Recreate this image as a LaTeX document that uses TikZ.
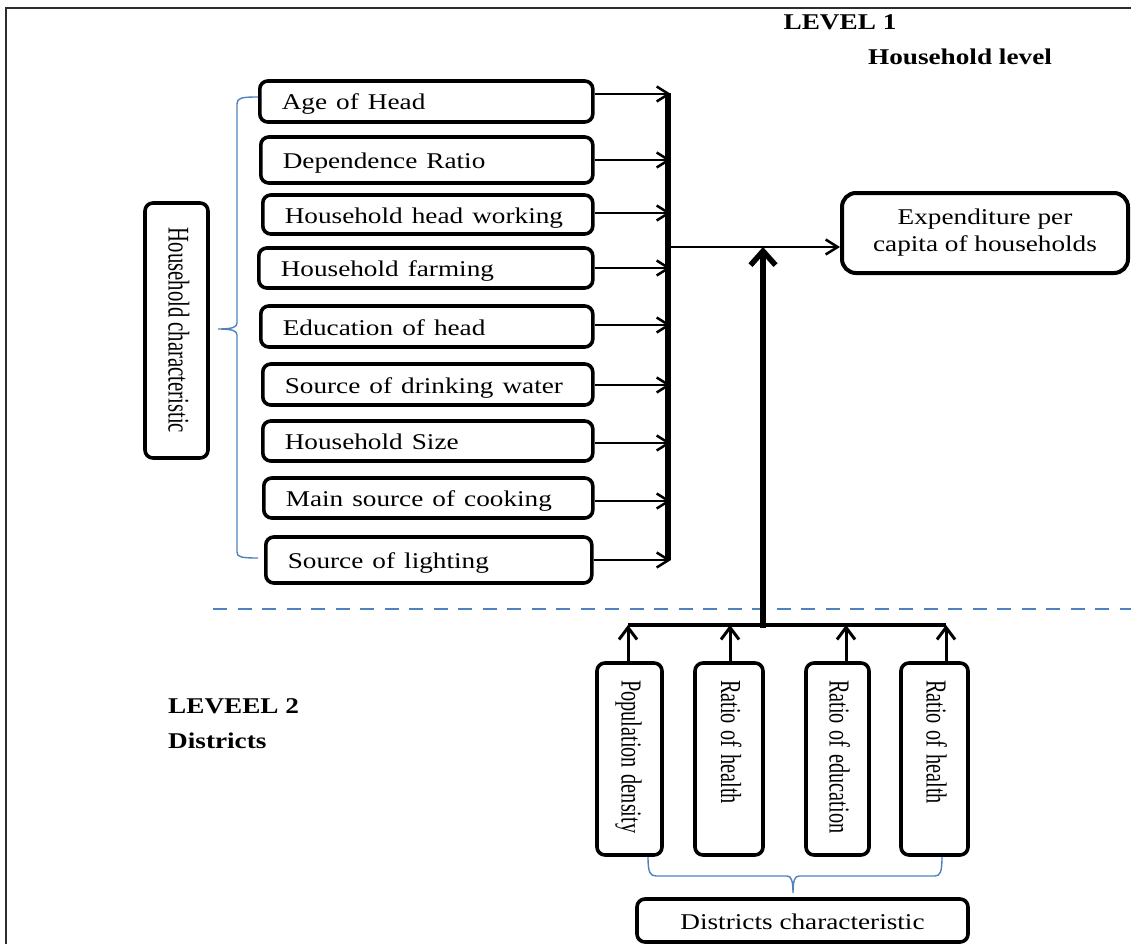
\documentclass[tikz,border=0pt]{standalone}
\usepackage{fontspec}
\setmainfont{Liberation Serif}
\usepackage{graphicx}
\usetikzlibrary{arrows.meta,calc}

\definecolor{braceblue}{RGB}{79,129,189}
\definecolor{framegray}{RGB}{45,45,45}

% wide horizontal lettering and slim rotated lettering
\newcommand{\widetext}[1]{\scalebox{1.21}[1]{#1}}
\newcommand{\slimtext}[1]{\scalebox{0.70}[1]{#1}}

\begin{document}
\begin{tikzpicture}[x=1pt,y=-1pt,
  every node/.style={font=\fontsize{22.5}{27}\selectfont},
  varbox/.style={draw, line width=3.6pt, rounded corners=8pt, anchor=west,
    align=left, inner xsep=22pt, inner ysep=0pt, text height=21pt, text depth=4pt},
  vbox/.style={draw, line width=3.6pt, rounded corners=8pt, rotate=-90,
    font=\fontsize{29}{32}\selectfont, inner ysep=0pt,
    text height=22pt, text depth=6pt},
  headlabel/.style={font=\fontsize{22.5}{27}\selectfont\bfseries, inner sep=0pt},
  harrow/.style={line width=2.5pt, -{Straight Barb[length=12pt,width=15pt]}, shorten >=-3pt},
  uparrow/.style={line width=3pt, -{Straight Barb[length=12pt,width=18pt]}},
  bigarrow/.style={line width=5.5pt, -{Straight Barb[length=14pt,width=25pt]}},
  bracepath/.style={braceblue, line width=1.4pt},
]
\useasboundingbox (0,0) rectangle (1131,944);

% outer frame
\draw[framegray, line width=2pt] (6,944) -- (6,8) -- (1131,8);

% headings
\node[headlabel] (lv1) at (840,22) {\widetext{LEVEL 1}};
\node[headlabel] (hhl) at (960,57) {\widetext{Household level}};
\node[headlabel, anchor=west] (lv2) at (168,706) {\widetext{LEVEEL 2}};
\node[headlabel, anchor=west] (dis) at (168,741) {\widetext{Districts}};

% household variables
\node[varbox, text width=289pt, minimum height=41pt] (b1) at (258,101.5) {\widetext{Age of Head}};
\node[varbox, text width=288pt, minimum height=46pt] (b2) at (259,160) {\widetext{Dependence Ratio}};
\node[varbox, text width=286pt, minimum height=39pt] (b3) at (261,214.5) {\widetext{Household head working}};
\node[varbox, text width=290pt, minimum height=40pt] (b4) at (257,268) {\widetext{Household farming}};
\node[varbox, text width=288pt, minimum height=41pt] (b5) at (259,326.5) {\widetext{Education of head}};
\node[varbox, text width=286pt, minimum height=41pt] (b6) at (261,384.5) {\widetext{Source of drinking water}};
\node[varbox, text width=286pt, minimum height=40pt] (b7) at (261,441) {\widetext{Household Size}};
\node[varbox, text width=285pt, minimum height=40pt] (b8) at (262,498) {\widetext{Main source of cooking}};
\node[varbox, text width=282pt, minimum height=46pt] (b9) at (264,560) {\widetext{Source of lighting}};

% household characteristic group
\node[vbox, font=\fontsize{30}{33}\selectfont, minimum width=255pt, minimum height=63pt]
  (hc) at (176.5,330.5) {\scalebox{0.69}[1]{Household characteristic}};
\draw[bracepath] (258,97) .. controls (241,97) and (237,98) .. (237,104)
  -- (237,323) .. controls (237,327) and (233,329) .. (218,329)
  .. controls (233,329) and (237,331) .. (237,335)
  -- (237,552) .. controls (237,557) and (241,558) .. (258,558);

% collecting bar
\coordinate (bustop) at (668,93);
\coordinate (busbot) at (668,560);
\draw[line width=5.5pt] (bustop) -- (busbot);

\coordinate (a1) at ($(b1.east)+(0,-7.5)$);
\coordinate (a2) at ($(b2.east)+(0,0)$);
\coordinate (a3) at ($(b3.east)+(0,-1.5)$);
\coordinate (a4) at ($(b4.east)+(0,0)$);
\coordinate (a5) at ($(b5.east)+(0,-1.5)$);
\coordinate (a6) at ($(b6.east)+(0,0.5)$);
\coordinate (a7) at ($(b7.east)+(0,2)$);
\coordinate (a8) at ($(b8.east)+(0,3)$);
\coordinate (a9) at ($(b9.east)+(0,0)$);
\foreach \i in {1,...,9}{
  \draw[harrow] (a\i) -- (a\i -| bustop);
}

% outcome
\node[draw, line width=4pt, rounded corners=14pt, align=center,
  minimum width=286pt, minimum height=80pt, inner sep=0pt]
  (exp) at (985,233) {\widetext{Expenditure per}\\\widetext{capita of households}};
\coordinate (join) at (668,247);
\draw[harrow, shorten >=0pt] (join) -- (join -| exp.west);

% level separator
\draw[braceblue, line width=2.2pt, dash pattern=on 14pt off 10.5pt] (213,609) -- (1131,609);

% district variables
\node[vbox, align=left, text width=158pt, inner xsep=17pt, minimum width=192pt, minimum height=65pt]
  (d1) at (629.5,759) {\slimtext{Population density}};
\node[vbox, align=left, text width=158pt, inner xsep=17pt, minimum width=192pt, minimum height=68pt]
  (d2) at (729,759) {\slimtext{Ratio of health}};
\node[vbox, align=left, text width=158pt, inner xsep=17pt, minimum width=192pt, minimum height=63pt]
  (d3) at (837.5,759) {\slimtext{Ratio of education}};
\node[vbox, align=left, text width=158pt, inner xsep=17pt, minimum width=192pt, minimum height=67pt]
  (d4) at (934.5,759) {\slimtext{Ratio of health}};

% district collecting bar
\coordinate (bl) at (628,625);
\coordinate (br) at (946,625);
\draw[line width=4.5pt] (bl) -- (br);

\coordinate (u1) at ($(d1.west)+(-1.5,0)$);
\coordinate (u2) at ($(d2.west)+(1,0)$);
\coordinate (u3) at ($(d3.west)+(8.5,0)$);
\coordinate (u4) at ($(d4.west)+(11.5,0)$);
\foreach \i in {1,...,4}{
  \draw[uparrow] (u\i) -- (u\i |- bl);
}

% district level feeding the outcome
\coordinate (upbase) at (763,628);
\draw[bigarrow] (upbase) -- (upbase |- join);

% district characteristic group
\node[draw, line width=3.6pt, rounded corners=8pt, minimum width=331pt, minimum height=43pt,
  inner ysep=0pt, text height=21pt, text depth=4pt] (dc) at (802.5,920.5) {\widetext{Districts characteristic}};
\draw[bracepath] (648,857) .. controls (648,872) and (650,876) .. (656,876)
  -- (787,876) .. controls (791,876) and (793,880) .. (793,893)
  .. controls (793,880) and (795,876) .. (799,876)
  -- (935,876) .. controls (940,876) and (942,872) .. (942,857);
\end{tikzpicture}
\end{document}
